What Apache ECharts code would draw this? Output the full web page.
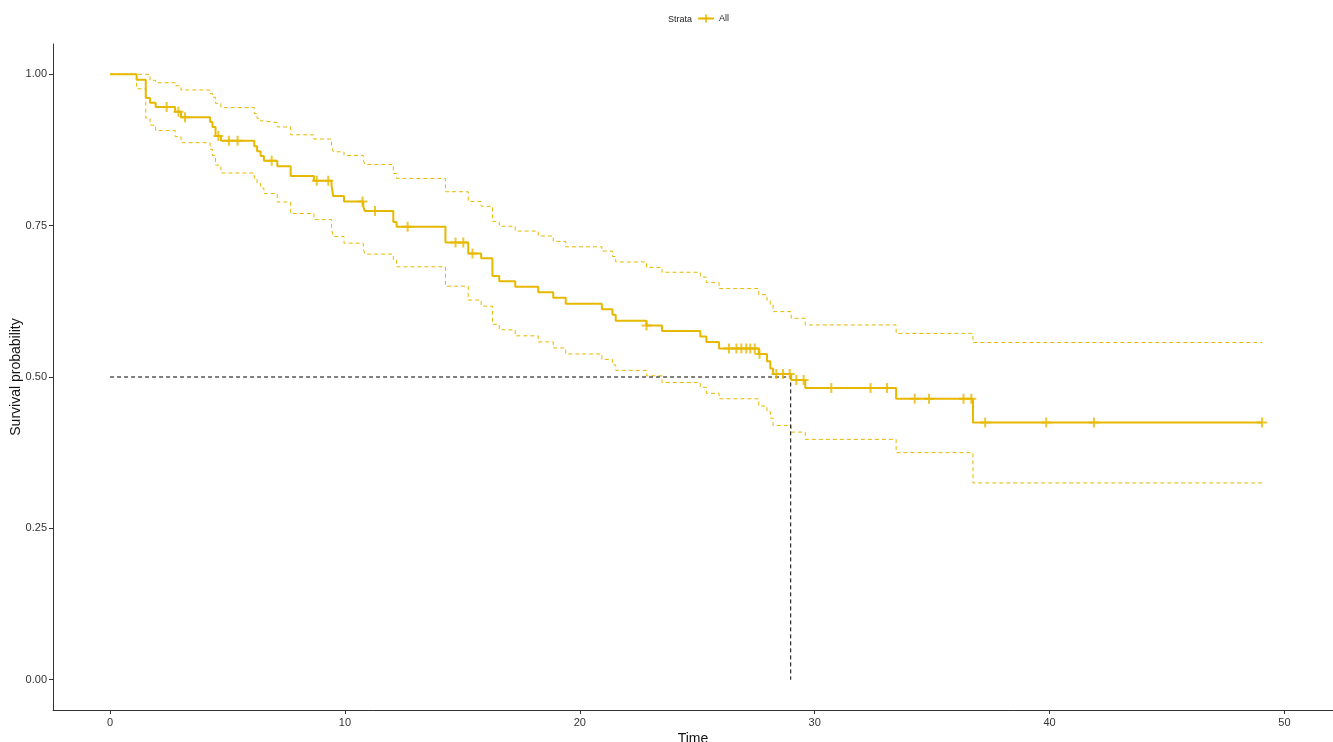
<!DOCTYPE html>
<html>
<head>
<meta charset="utf-8">
<script src="https://cdn.jsdelivr.net/npm/echarts@6/dist/echarts.min.js"></script>
<style>
html,body{margin:0;padding:0;background:#fff;}
#chart{width:1333px;height:742px;}
</style>
</head>
<body>
<div id="chart"></div>
<script>
// Kaplan-Meier step data
const times = [0, 1.13, 1.52, 1.70, 1.94, 2.77, 3.02, 4.26, 4.36, 4.49, 4.72, 6.14, 6.26, 6.41, 6.55, 7.12, 7.69, 8.68, 9.43, 9.50, 9.96, 10.78, 10.85, 12.06, 12.20, 14.28, 15.25, 15.80, 16.28, 16.57, 17.25, 18.23, 18.87, 19.40, 20.94, 21.39, 21.53, 22.84, 23.50, 25.13, 25.39, 25.93, 27.62, 27.97, 28.11, 28.23, 29.00, 29.60, 33.47, 36.74];
const surv  = [1.000, 0.991, 0.961, 0.953, 0.946, 0.938, 0.929, 0.921, 0.913, 0.898, 0.890, 0.881, 0.873, 0.865, 0.857, 0.848, 0.832, 0.824, 0.816, 0.799, 0.790, 0.782, 0.774, 0.756, 0.748, 0.722, 0.704, 0.696, 0.667, 0.658, 0.649, 0.640, 0.631, 0.621, 0.612, 0.603, 0.593, 0.585, 0.576, 0.567, 0.558, 0.547, 0.538, 0.526, 0.514, 0.505, 0.495, 0.482, 0.464, 0.425];
const upper = [1.000, 1.000, 1.000, 0.990, 0.986, 0.981, 0.974, 0.968, 0.962, 0.952, 0.945, 0.935, 0.927, 0.923, 0.920, 0.913, 0.900, 0.893, 0.882, 0.872, 0.866, 0.858, 0.851, 0.836, 0.828, 0.806, 0.790, 0.782, 0.757, 0.749, 0.741, 0.733, 0.724, 0.715, 0.708, 0.699, 0.690, 0.681, 0.673, 0.665, 0.656, 0.646, 0.636, 0.627, 0.619, 0.608, 0.597, 0.586, 0.572, 0.557];
const lower = [1.000, 0.976, 0.928, 0.916, 0.907, 0.897, 0.887, 0.876, 0.866, 0.850, 0.837, 0.828, 0.820, 0.812, 0.803, 0.789, 0.770, 0.760, 0.745, 0.732, 0.721, 0.712, 0.703, 0.693, 0.682, 0.650, 0.627, 0.617, 0.587, 0.578, 0.568, 0.558, 0.548, 0.538, 0.529, 0.520, 0.511, 0.502, 0.491, 0.483, 0.473, 0.464, 0.452, 0.443, 0.432, 0.420, 0.409, 0.397, 0.375, 0.325];
const endTime = 49.05;
const censorTimes = [2.41, 2.91, 3.19, 4.61, 5.06, 5.43, 6.88, 8.80, 9.29, 10.75, 11.28, 12.67, 14.71, 15.04, 15.43, 22.84, 26.35, 26.67, 26.88, 27.09, 27.26, 27.45, 27.65, 28.37, 28.65, 28.94, 29.22, 29.53, 30.71, 32.38, 33.08, 34.26, 34.87, 36.34, 36.67, 37.26, 39.86, 41.89, 49.05];
const medianTime = 28.98;
const medianSurv = 0.5;
const xTicks = [0, 10, 20, 30, 40, 50];
const yTicks = [0, 0.25, 0.5, 0.75, 1];
const legendTitle = 'Strata';
const strataName = 'All';

const COLOR = '#E7B800';
const FONT = 'Arial, "Liberation Sans", sans-serif';
const PLUS = 'path://M-1,-5L1,-5L1,-1L5,-1L5,1L1,1L1,5L-1,5L-1,1L-5,1L-5,-1L-1,-1Z';

function stepSeries(vals) {
  const d = times.map((t, i) => [t, vals[i]]);
  d.push([endTime, vals[vals.length - 1]]);
  return d;
}
function survAt(t) {
  let v = surv[0];
  for (let i = 0; i < times.length; i++) { if (times[i] <= t) v = surv[i]; }
  return v;
}
const censorData = censorTimes.map(t => [t, survAt(t)]);

const chart = echarts.init(document.getElementById('chart'), null, {renderer: 'canvas'});
chart.setOption({
  animation: false,
  backgroundColor: '#fff',
  title: {
    text: legendTitle, left: 663, top: 10,
    textStyle: {fontSize: 9, fontWeight: 'normal', color: '#222', fontFamily: FONT}
  },
  legend: {
    data: [strataName], left: 692, top: 9, itemWidth: 16, itemHeight: 10, itemGap: 4,
    textStyle: {fontSize: 9, color: '#222', fontFamily: FONT}
  },
  grid: {left: 53, right: 0, top: 44, bottom: 32, containLabel: false, outerBoundsMode: 'none'},
  xAxis: {
    type: 'value', min: -2.43, max: 52.07,
    name: 'Time', nameLocation: 'middle', nameGap: 22, nameMoveOverlap: false,
    nameTextStyle: {fontSize: 14, color: '#111', fontFamily: FONT},
    axisLine: {show: true, onZero: false, lineStyle: {color: '#333', width: 1}},
    axisTick: {show: true, length: 4, lineStyle: {color: '#333'}, customValues: xTicks},
    axisLabel: {fontSize: 11, color: '#333', margin: 7, fontFamily: FONT, customValues: xTicks},
    splitLine: {show: false}
  },
  yAxis: {
    type: 'value', min: -0.05, max: 1.05,
    name: 'Survival probability', nameLocation: 'middle', nameGap: 30, nameRotate: 90, nameMoveOverlap: false,
    nameTextStyle: {fontSize: 14, color: '#111', fontFamily: FONT},
    axisLine: {show: true, onZero: false, lineStyle: {color: '#333', width: 1}},
    axisTick: {show: true, length: 4, lineStyle: {color: '#333'}, customValues: yTicks},
    axisLabel: {fontSize: 11, color: '#333', margin: 6, fontFamily: FONT, customValues: yTicks,
      formatter: v => v.toFixed(2)},
    splitLine: {show: false}
  },
  series: [
    {
      name: 'upper', type: 'line', step: 'end', data: stepSeries(upper),
      symbol: 'none', silent: true, lineStyle: {color: COLOR, width: 1, type: [4, 3]}, z: 2
    },
    {
      name: 'lower', type: 'line', step: 'end', data: stepSeries(lower),
      symbol: 'none', silent: true, lineStyle: {color: COLOR, width: 1, type: [4, 3]}, z: 2
    },
    {
      name: 'median', type: 'line', data: [[0, medianSurv], [medianTime, medianSurv], [medianTime, 0]],
      symbol: 'none', silent: true, lineStyle: {color: '#000', width: 1, type: [4, 3]}, z: 3
    },
    {
      name: strataName, type: 'line', step: 'end', data: stepSeries(surv),
      symbol: PLUS, symbolSize: 10, showSymbol: false, itemStyle: {color: COLOR},
      lineStyle: {color: COLOR, width: 2}, z: 4
    },
    {
      name: 'censor', type: 'scatter', data: censorData, symbol: PLUS, symbolSize: 10,
      itemStyle: {color: COLOR}, silent: true, z: 5
    }
  ]
});
</script>
</body>
</html>
